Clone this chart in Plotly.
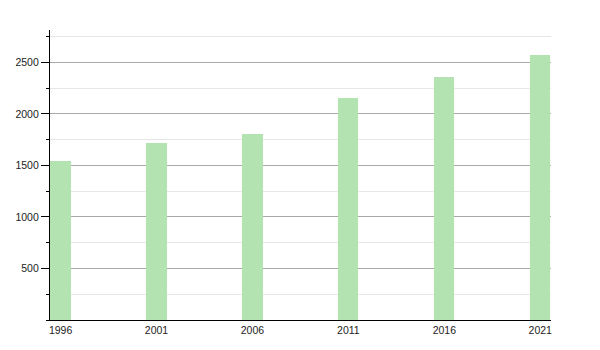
import plotly.graph_objects as go

years = [1996, 2001, 2006, 2011, 2016, 2021]
population = [1543, 1717, 1807, 2153, 2357, 2573]
year_labels = ["1996", "2001", "2006", "2011", "2016", "2021"]
y_ticks = [500, 1000, 1500, 2000, 2500]

fig = go.Figure()
fig.add_trace(go.Bar(
    x=years, y=population, width=1.05,
    marker=dict(color="#b2e3b0", line=dict(width=0)),
))

fig.update_layout(
    width=600, height=350,
    margin=dict(l=50, r=49, t=30, b=29.5),
    paper_bgcolor="white", plot_bgcolor="white",
    showlegend=False,
    bargap=0,
    font=dict(family="Liberation Sans, Arial, sans-serif", size=11, color="#222"),
)
fig.update_xaxes(
    range=[1995.45, 2021.56],
    tickvals=years, ticktext=year_labels,
    showgrid=False, zeroline=False,
    showline=True, linecolor="black", linewidth=1.2,
    ticks="", tickfont=dict(size=10.5),
)
fig.update_yaxes(
    range=[0, 2815],
    tickvals=y_ticks,
    showgrid=True, gridcolor="#aaaaaa", gridwidth=1,
    zeroline=False,
    showline=True, linecolor="black", linewidth=1.2,
    ticks="outside", ticklen=8, tickcolor="black", tickwidth=1,
    tickfont=dict(size=10.5),
    minor=dict(dtick=250, tick0=0, showgrid=True, gridcolor="#e6e6e6",
               ticks="outside", ticklen=3, tickcolor="black"),
)

fig.write_html("out.html")
